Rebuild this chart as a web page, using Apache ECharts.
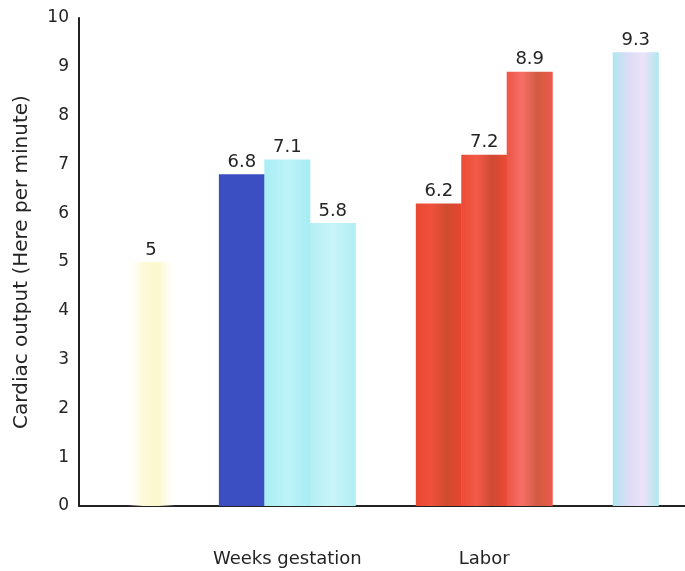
<!DOCTYPE html>
<html>
<head>
<meta charset="utf-8">
<script src="https://cdn.jsdelivr.net/npm/echarts@6/dist/echarts.min.js"></script>
<style>
  html, body { margin: 0; padding: 0; background: #ffffff; }
  #chart { width: 685px; height: 571px; }
</style>
</head>
<body>
<div id="chart"></div>
<script>
// Cardiac output values (litres per minute) for each bar, left to right
const values = [5, 6.8, 7.1, 5.8, 6.2, 7.2, 8.9, 9.3];

// Group names shown under the x axis
const groupNames = ['Weeks gestation', 'Labor'];

// Y axis range and step
const yMin = 0;
const yMax = 10;
const yStep = 1;

// Layout: the x axis is split into narrow slots; each bar sits on one slot
const slotCount = 80;
const barSlots = [9, 21, 27, 33, 47, 53, 59, 73];
const groupSlots = [27, 53];

// Fill styles for each bar
function hGrad(stops) {
  return new echarts.graphic.LinearGradient(0, 0, 1, 0,
    stops.map(function (c, i) { return { offset: i / (stops.length - 1), color: c }; }));
}
const barColors = [
  hGrad(['rgba(255,253,236,0)', '#fdf9d8', '#fcf7cc', 'rgba(255,253,236,0.1)']),
  '#3b4fc3',
  hGrad(['#a9eef5', '#bdf3f8', '#a6edf4']),
  hGrad(['#b3eff4', '#c8f4f8', '#b0eef3']),
  hGrad(['#e94a33', '#f0503c', '#cf4b30', '#e8452f']),
  hGrad(['#ec4b36', '#f25a48', '#d04a32', '#ea4a35']),
  hGrad(['#ee5546', '#f56f66', '#d25a42', '#ec5a48']),
  hGrad(['#aee6f0', '#dcdcf6', '#ece2f8', '#aee8ef'])
];

// Build per-slot category and bar arrays
const slotLabels = new Array(slotCount).fill('');
groupSlots.forEach(function (s, i) { slotLabels[s] = groupNames[i]; });

const slotData = new Array(slotCount).fill('-');
barSlots.forEach(function (s, i) {
  slotData[s] = { value: values[i], itemStyle: { color: barColors[i] } };
});

const textColor = '#242424';
const fontFamily = 'DejaVu Sans';

const chart = echarts.init(document.getElementById('chart'));
chart.setOption({
  animation: false,
  backgroundColor: '#ffffff',
  grid: { left: 79, right: 0, top: 18, bottom: 65, containLabel: false },
  xAxis: {
    type: 'category',
    data: slotLabels,
    axisLine: { show: true, lineStyle: { color: '#222222', width: 2 } },
    axisTick: { show: false },
    axisLabel: {
      interval: 0,
      margin: 44,
      color: textColor,
      fontSize: 18,
      fontFamily: fontFamily
    },
    splitLine: { show: false }
  },
  yAxis: {
    type: 'value',
    min: yMin,
    max: yMax,
    interval: yStep,
    name: 'Cardiac output (Here per minute)',
    nameLocation: 'middle',
    nameGap: 47,
    nameRotate: 90,
    nameTextStyle: { color: textColor, fontSize: 20, fontFamily: fontFamily },
    axisLine: { show: true, lineStyle: { color: '#222222', width: 2 } },
    axisTick: { show: false },
    axisLabel: { color: textColor, fontSize: 17, fontFamily: fontFamily, margin: 10 },
    splitLine: { show: false }
  },
  series: [{
    type: 'bar',
    data: slotData,
    barWidth: 46,
    label: {
      show: true,
      position: 'top',
      distance: 3,
      color: textColor,
      fontSize: 18,
      fontFamily: fontFamily
    }
  }]
});
</script>
</body>
</html>
